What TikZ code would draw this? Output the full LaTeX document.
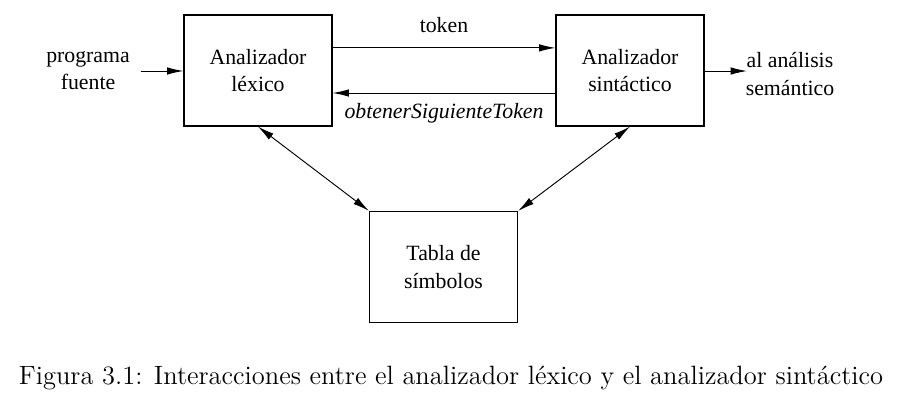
\documentclass[tikz,border=0pt]{standalone}
\usepackage{fontspec}
\usepackage{tikz}
\usetikzlibrary{arrows.meta}
\newfontfamily\timesfont{Liberation Serif}

\begin{document}
\begin{tikzpicture}[
  caja/.style={draw,line width=0.5pt,minimum width=2.22cm,minimum height=1.665cm,align=center,font=\timesfont\fontsize{9.3}{11.8}\selectfont},
  texto/.style={align=center,font=\timesfont\fontsize{9.3}{11.8}\selectfont},
  flecha/.style={line width=0.4pt,-{Latex[length=7pt,width=3.2pt]}},
  doble/.style={line width=0.4pt,{Latex[length=7pt,width=3.2pt]}-{Latex[length=7pt,width=3.2pt]}}
]
\useasboundingbox (0,0) rectangle (13.5,-6.225);
%% boxes
\node[caja] (lex) at (3.87,-1.058) {Analizador\\l\'exico};
\node[caja] (sin) at (9.45,-1.058) {Analizador\\sint\'actico};
\node[caja] (tabla) at (6.653,-4.005) {Tabla de\\s\'imbolos};
%% outer texts
\node[texto] (fuente) at (1.32,-1.06) {programa\\fuente};
\node[texto] (semantico) at (11.85,-1.11) {al an\'alisis\\sem\'antico};
\coordinate (entrada) at (2.115,-1.065);
\coordinate (salida) at (11.205,-1.065);
%% edges
\draw[flecha] (entrada) -- (lex.west |- entrada);
\draw[flecha] ([yshift=0.34cm]lex.east) -- node[texto,above=3pt] (tok) {token} ([yshift=0.34cm]sin.west);
\draw[flecha] ([yshift=-0.337cm]sin.west) -- node[texto,below=1pt] (obt) {\itshape obtenerSiguienteToken} ([yshift=-0.337cm]lex.east);
\draw[flecha] (sin.east |- salida) -- (salida);
\draw[doble] (lex.south) -- (tabla.north west);
\draw[doble] (sin.south) -- (tabla.north east);
%% caption
\node (pie) at (6.765,-5.67) {\fontsize{11.3}{13}\selectfont Figura 3.1: Interacciones entre el analizador l\'exico y el analizador sint\'actico};
\end{tikzpicture}
\end{document}
